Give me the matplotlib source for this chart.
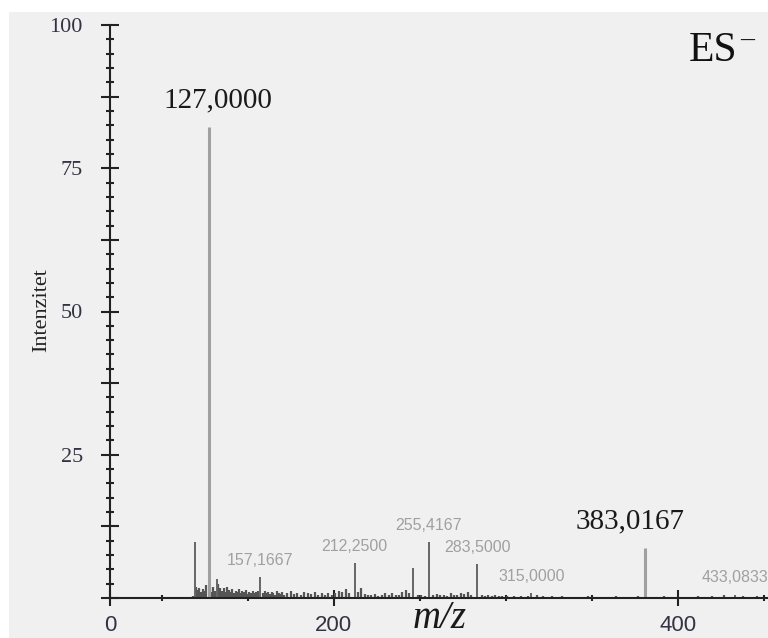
import matplotlib
matplotlib.use('Agg')
import matplotlib.pyplot as plt
from matplotlib.patches import Rectangle
from matplotlib.ticker import MultipleLocator, FixedLocator, FixedFormatter, FuncFormatter

# big labelled peaks (serif labels)
big_mz = [127.3, 381.0]
big_int = [82.2, 8.7]
big_text = ['127,0000', '383,0167']

# small labelled peaks (grey sans labels)
small_mz = [157.2, 212.2, 255.3, 283.6, 315.0, 433.1]
small_int = [3.7, 6.1, 9.8, 5.9, 0.8, 0.6]
small_text = ['157,1667', '212,2500', '255,4167', '283,5000', '315,0000', '433,0833']

# other visible peaks without labels
other_mz = [119.2, 132.0, 246.0]
other_int = [9.8, 3.4, 5.2]

# baseline noise (m/z, intensity)
noise_peaks = [
    (118, 0.3), (120, 2.0), (121, 1.4), (122, 1.8), (123, 1.0), (124, 1.5),
    (125, 1.2), (126, 2.2), (128, 1.6), (129, 1.1), (130, 2.0), (131, 1.3),
    (133, 2.4), (134, 1.8), (135, 1.2), (136, 1.7), (137, 1.0), (138, 1.9),
    (139, 1.4), (140, 1.1), (141, 1.6), (142, 0.9), (143, 1.3), (144, 1.0),
    (145, 1.5), (146, 0.8), (147, 1.2), (148, 1.0), (149, 1.4), (150, 0.7),
    (151, 1.1), (152, 0.9), (153, 1.3), (154, 0.8), (155, 1.0), (156, 1.2),
    (159, 0.9), (160, 1.3), (161, 0.8), (162, 1.1), (163, 0.7), (164, 1.0),
    (165, 0.9), (166, 0.6), (167, 1.2), (168, 0.8), (169, 0.7), (170, 1.0),
    (171, 0.6), (173, 0.9), (175, 1.2), (177, 0.7), (179, 0.9), (181, 0.6),
    (183, 1.1), (185, 0.8), (187, 0.7), (189, 1.0), (191, 0.6), (193, 0.8),
    (195, 0.5), (197, 0.9), (199, 0.6), (201, 0.8), (203, 1.2), (205, 1.0),
    (207, 1.6), (209, 0.9), (214, 1.0), (216, 1.8), (218, 0.7), (220, 0.6),
    (222, 0.5), (224, 0.7), (226, 0.4), (228, 0.6), (230, 0.8), (232, 0.5),
    (234, 0.9), (236, 0.6), (238, 0.5), (240, 1.0), (242, 1.4), (244, 0.8),
    (249, 0.6), (251, 0.5), (253, 0.4), (258, 0.5), (260, 0.7), (262, 0.5),
    (264, 0.6), (266, 0.4), (268, 0.8), (270, 0.5), (272, 0.6), (274, 0.9),
    (276, 0.7), (278, 1.1), (280, 0.6), (286, 0.5), (288, 0.4), (290, 0.6),
    (292, 0.3), (294, 0.5), (296, 0.4), (298, 0.3), (301, 0.4), (305, 0.3),
    (309, 0.4), (313, 0.3), (318, 0.5), (322, 0.3), (327, 0.4), (333, 0.3),
    (340, 0.2), (348, 0.4), (356, 0.2), (364, 0.3), (372, 0.2), (377, 0.3),
    (386, 0.2), (392, 0.3), (403, 0.2), (412, 0.3), (420, 0.4), (427, 0.6),
    (438, 0.3), (446, 0.4),
]

x_ticks = [70, 200, 400]
x_tick_labels = ['0', '200', '400']
x_minor = [100, 150, 250, 300, 350, 450]

SERIF = 'Liberation Serif'
SANS = 'Liberation Sans'
W, H = 768, 638

fig = plt.figure(figsize=(W / 100, H / 100), dpi=100)
fig.patch.set_facecolor('white')
fig.patches.append(Rectangle((9 / W, 0), 1, 1 - 12 / H, transform=fig.transFigure,
                             facecolor='#f0f0f0', edgecolor='none', zorder=-10))

ax = fig.add_axes([110 / W, 40 / H, 1 - 110 / W, (598 - 25) / H])
ax.patch.set_alpha(0)
ax.set_xlim(70, 70 + (W - 110) / 1.72)
ax.set_ylim(0, 100)

for s in ['top', 'right']:
    ax.spines[s].set_visible(False)
for s in ['left', 'bottom']:
    ax.spines[s].set_color('#222222')
    ax.spines[s].set_linewidth(1.5)

# spectrum
nm = [p[0] for p in noise_peaks]
ni = [p[1] for p in noise_peaks]
ax.vlines(nm, 0, ni, color='#555555', lw=1.6)
ax.vlines(other_mz, 0, other_int, color='#666666', lw=1.4)
ax.vlines(small_mz, 0, small_int, color='#666666', lw=1.4)
ax.vlines(big_mz, 0, big_int, color='#a0a0a0', lw=2.2)

for mz, it, t in zip(big_mz, big_int, big_text):
    dx = 7 if mz < 200 else -11
    ax.annotate(t, (mz, it), xytext=(dx, 19), textcoords='offset points',
                ha='center', va='center', fontsize=21, family=SERIF, color='#1a1a1a')

for mz, it, t in zip(small_mz, small_int, small_text):
    ax.annotate(t, (mz, it), xytext=(0, 12), textcoords='offset points',
                ha='center', va='center', fontsize=11.5, family=SANS, color='#a0a0a0')

# y axis ticks
ax.yaxis.set_major_locator(MultipleLocator(12.5))
ax.yaxis.set_minor_locator(MultipleLocator(2.5))
ax.yaxis.set_major_formatter(FuncFormatter(lambda v, p: f'{v:g}' if v % 25 == 0 and v > 0 else ''))
ax.tick_params(axis='y', which='major', direction='inout', length=13, width=1.5,
               pad=13, labelsize=16, labelcolor='#333344', labelfontfamily=SERIF, color='#222222')
ax.tick_params(axis='y', which='minor', direction='inout', length=6, width=1.5, color='#222222')

# x axis ticks
ax.xaxis.set_major_locator(FixedLocator(x_ticks))
ax.xaxis.set_major_formatter(FixedFormatter(x_tick_labels))
ax.xaxis.set_minor_locator(FixedLocator(x_minor))
ax.tick_params(axis='x', which='major', direction='inout', length=11, width=1.5,
               pad=7, labelsize=16, labelcolor='#333344', labelfontfamily=SANS, color='#222222')
ax.tick_params(axis='x', which='minor', direction='inout', length=4.5, width=1.5, color='#222222')

fig.text(42 / W, 1 - 310 / H, 'Intenzitet', rotation=90, ha='center', va='center',
         fontsize=16, family=SERIF, color='#222222')
fig.text(440 / W, 1 / H, 'm/z', ha='center', va='bottom', fontsize=28,
         family=SERIF, style='italic', color='#1a1a1a')
fig.text(713 / W, 1 - 61 / H, 'ES', ha='center', va='baseline', fontsize=30,
         family=SERIF, color='#111111')
fig.text(747 / W, 1 - 47 / H, '\u2013', ha='center', va='baseline', fontsize=20,
         family=SERIF, color='#111111')

fig.savefig('out.png', dpi=100)
